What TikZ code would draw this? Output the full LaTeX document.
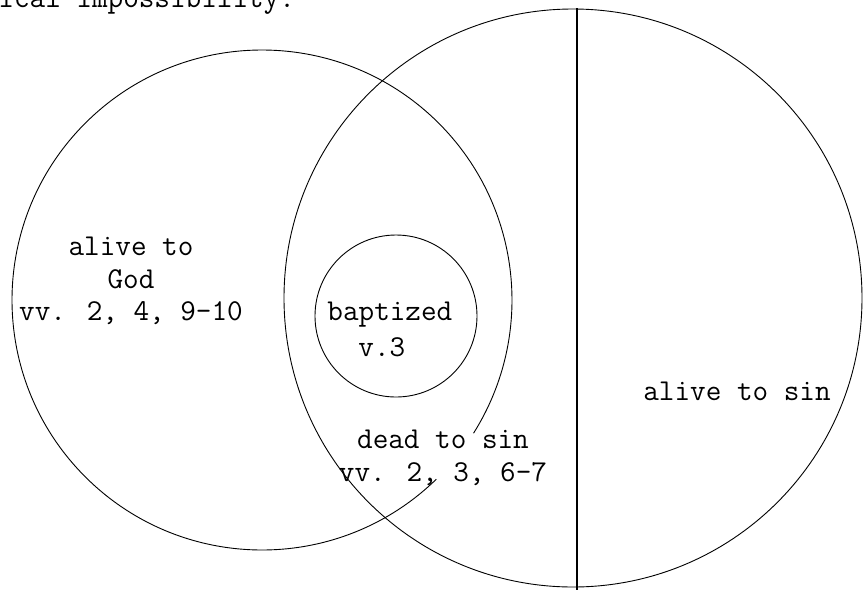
\documentclass[tikz,border=0pt]{standalone}
\usepackage{fontspec}
\newcommand{\typew}{\ttfamily\fontsize{30.3}{36}\selectfont}
\begin{document}
\begin{tikzpicture}[x=1pt,y=-1pt,line width=0.9pt,every node/.style={font=\typew,inner sep=0pt}]
\useasboundingbox (0,0) rectangle (863,590);
% line of text above, cut by the page edge
\node[anchor=base west] (cut) at (-2,7) {ical impossibility.};
% left circle, broken where the text sits
\draw (262,300) ++(45.8:250) arc[start angle=45.8,end angle=392.2,radius=250];
% big circle split by a vertical line
\draw (573,298) circle[radius=289];
\coordinate (top) at (577,8); \coordinate (bot) at (577,590);
\draw[line width=1.8pt] (top) -- (bot);
% small circle
\draw (396,316) circle[radius=81];
% labels
\node[anchor=base] (aliveA) at (131,255) {alive to};
\node[anchor=base] (aliveB) at (131,288) {God};
\node[anchor=base] (aliveC) at (131,320) {vv. 2, 4, 9-10};
\node[anchor=base west] (bapt) at (327,320) {baptized};
\node[anchor=base west] (bverse) at (358,356) {v.3};
\node[anchor=base] (dead) at (443,448) {dead to sin};
\node[anchor=base] (deadverse) at (443,481) {vv. 2, 3, 6-7};
\node[anchor=base] (sin) at (737,400) {alive to sin};
\end{tikzpicture}
\end{document}
